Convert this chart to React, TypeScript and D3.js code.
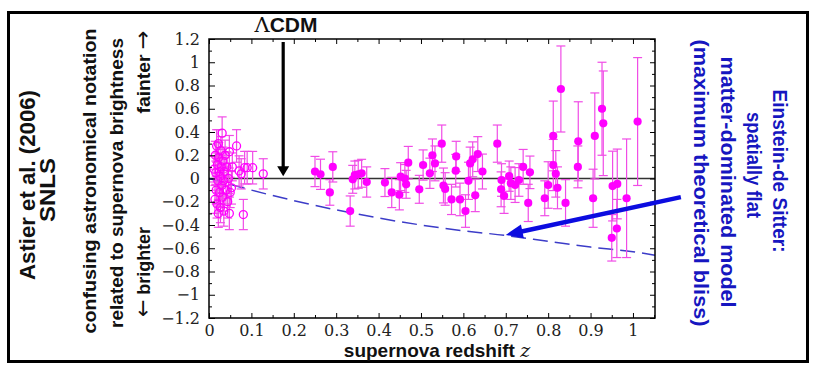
import React, { useRef, useEffect } from "react";
import * as d3 from "d3";

// nearby supernovae (open circles)
const nearZ = [0.012, 0.014, 0.015, 0.016, 0.017, 0.018, 0.019, 0.02, 0.021, 0.022, 0.022, 0.023, 0.024, 0.025, 0.026, 0.027, 0.028, 0.029, 0.03, 0.031, 0.032, 0.033, 0.034, 0.035, 0.036, 0.038, 0.04, 0.042, 0.044, 0.046, 0.048, 0.048, 0.05, 0.053, 0.055, 0.065, 0.071, 0.076, 0.081, 0.084, 0.09, 0.103, 0.128];
const nearMag = [0.08, -0.18, 0.2, 0.05, -0.1, 0.28, -0.22, 0.12, -0.02, 0.3, -0.3, 0.18, 0.06, -0.12, 0.02, -0.25, 0.24, 0.1, -0.06, 0.39, -0.16, 0.15, -0.02, -0.28, 0.06, 0.2, -0.1, 0.1, -0.2, 0.0, 0.23, -0.3, -0.12, -0.08, 0.1, 0.28, 0.065, 0.04, -0.31, 0.093, 0.093, 0.093, 0.04];
const nearErr = [0.11, 0.12, 0.12, 0.1, 0.12, 0.14, 0.12, 0.1, 0.1, 0.12, 0.12, 0.13, 0.11, 0.12, 0.1, 0.13, 0.12, 0.1, 0.11, 0.14, 0.12, 0.12, 0.12, 0.13, 0.12, 0.13, 0.12, 0.13, 0.14, 0.13, 0.14, 0.14, 0.13, 0.14, 0.12, 0.14, 0.13, 0.13, 0.13, 0.14, 0.14, 0.14, 0.13];

// SNLS supernovae (filled circles)
const snlsZ = [0.25, 0.263, 0.285, 0.292, 0.333, 0.339, 0.344, 0.352, 0.36, 0.372, 0.415, 0.431, 0.449, 0.452, 0.462, 0.465, 0.47, 0.496, 0.505, 0.521, 0.527, 0.533, 0.549, 0.553, 0.557, 0.572, 0.582, 0.583, 0.592, 0.605, 0.612, 0.616, 0.622, 0.628, 0.634, 0.645, 0.68, 0.689, 0.69, 0.696, 0.708, 0.712, 0.722, 0.731, 0.741, 0.753, 0.757, 0.792, 0.8, 0.812, 0.812, 0.818, 0.822, 0.83, 0.841, 0.87, 0.871, 0.906, 0.91, 0.927, 0.93, 0.95, 0.952, 0.962, 0.963, 0.985, 1.011];
const snlsMag = [0.06, 0.036, -0.12, 0.1, -0.28, -0.007, 0.03, 0.036, 0.045, -0.03, -0.035, -0.12, -0.14, 0.016, 0.0, -0.05, 0.136, -0.093, 0.116, 0.045, 0.2, 0.13, 0.3, -0.06, -0.09, -0.18, 0.067, 0.19, -0.18, -0.28, -0.02, 0.13, 0.165, -0.145, 0.21, 0.06, 0.3, -0.093, -0.013, -0.15, 0.02, -0.04, -0.056, -0.013, 0.1, -0.21, 0.053, -0.17, -0.056, 0.366, 0.116, 0.04, -0.08, 0.77, -0.21, 0.1, 0.32, -0.17, 0.366, 0.6, 0.475, -0.51, -0.065, -0.43, -0.047, -0.17, 0.49];
const snlsErr = [0.13, 0.13, 0.11, 0.13, 0.13, 0.12, 0.12, 0.12, 0.12, 0.13, 0.12, 0.13, 0.13, 0.12, 0.12, 0.12, 0.14, 0.12, 0.13, 0.13, 0.14, 0.15, 0.16, 0.15, 0.14, 0.13, 0.14, 0.13, 0.14, 0.14, 0.16, 0.14, 0.15, 0.14, 0.15, 0.15, 0.16, 0.15, 0.14, 0.15, 0.13, 0.14, 0.15, 0.14, 0.15, 0.16, 0.14, 0.15, 0.2, 0.3, 0.22, 0.2, 0.18, 0.37, 0.2, 0.18, 0.34, 0.25, 0.37, 0.4, 0.45, 0.2, 0.3, 0.25, 0.3, 0.51, 0.55];

// Einstein-de Sitter model relative to LCDM
const edsZ = [0, 0.05, 0.1, 0.2, 0.3, 0.4, 0.5, 0.6, 0.7, 0.8, 0.9, 1.0, 1.052];
const edsMag = [0, -0.05, -0.1, -0.19, -0.27, -0.34, -0.4, -0.45, -0.49, -0.54, -0.59, -0.63, -0.66];

const xTicks = [0, 0.1, 0.2, 0.3, 0.4, 0.5, 0.6, 0.7, 0.8, 0.9, 1];
const xMinor = [0.05, 0.15, 0.25, 0.35, 0.45, 0.55, 0.65, 0.75, 0.85, 0.95, 1.05];
const yTicks = [-1.2, -1, -0.8, -0.6, -0.4, -0.2, 0, 0.2, 0.4, 0.6, 0.8, 1, 1.2];
const yMinor = [-1.1, -0.9, -0.7, -0.5, -0.3, -0.1, 0.1, 0.3, 0.5, 0.7, 0.9, 1.1];

// side labels: [before arrow, text, after arrow]
const leftLines = [
  { pre: "", text: "Astier et al. (2006)", post: "", x: 35, y: 185, size: 22, len: 190 },
  { pre: "", text: "SNLS", post: "", x: 55, y: 190, size: 22, len: 64 },
  { pre: "", text: "confusing astronomical notation", post: "", x: 96, y: 181, size: 19, len: 305 },
  { pre: "", text: "related to supernova brightness", post: "", x: 123, y: 183, size: 19, len: 290 },
  { pre: "\u2190", text: " brighter", post: "", x: 150, y: 272, size: 19, len: 90 },
  { pre: "", text: "fainter ", post: "\u2192", x: 150, y: 72, size: 19, len: 83 },
];
const rightLines = [
  { text: "Einstein-de Sitter:", x: 773, y: 171, size: 20, len: 163 },
  { text: "spatially flat", x: 747, y: 165, size: 20, len: 106 },
  { text: "matter-dominated model", x: 721, y: 182, size: 20, len: 251 },
  { text: "(maximum theoretical bliss)", x: 694, y: 183, size: 20, len: 287 },
];

const W = 817;
const H = 373;
const plot = { left: 209, right: 655, top: 39, bottom: 318 };
const sans = "'Liberation Sans', Arial, sans-serif";
const serif = "'DejaVu Serif', serif";

const App = () => {
  const svgRef = useRef<SVGSVGElement>(null);

  useEffect(() => {
    const svg = d3.select(svgRef.current);
    svg.selectAll("*").remove();

    const x = d3.scaleLinear().domain([0, 1.052]).range([plot.left, plot.right]);
    const y = d3.scaleLinear().domain([-1.2, 1.2]).range([plot.bottom, plot.top]);
    const fmt = d3.format(".1~f");

    // outer frame
    svg
      .append("rect")
      .attr("x", 8.5)
      .attr("y", 12.5)
      .attr("width", 799)
      .attr("height", 349)
      .attr("fill", "white")
      .attr("stroke", "black")
      .attr("stroke-width", 3);

    // LCDM zero line
    svg
      .append("line")
      .attr("x1", x(0))
      .attr("x2", plot.right)
      .attr("y1", y(0))
      .attr("y2", y(0))
      .attr("stroke", "#333")
      .attr("stroke-width", 1.4);

    // EdS dashed curve
    const eds = edsZ.map((z, i) => [z, edsMag[i]] as [number, number]);
    svg
      .append("path")
      .datum(eds)
      .attr("fill", "none")
      .attr("stroke", "#3c3cc8")
      .attr("stroke-width", 1.5)
      .attr("stroke-dasharray", "15,7")
      .attr(
        "d",
        d3
          .line()
          .x((d) => x(d[0]))
          .y((d) => y(d[1]))
          .curve(d3.curveMonotoneX)
      );

    const near = nearZ.map((z, i) => ({ z, m: nearMag[i], e: nearErr[i] }));
    const snls = snlsZ.map((z, i) => ({ z, m: snlsMag[i], e: snlsErr[i] }));
    const barColor = "#f04ce6";
    const cap = 4.5;

    const drawBars = (data, cls) => {
      const g = svg.append("g").attr("class", cls).attr("stroke", barColor).attr("stroke-width", 1.2);
      g.selectAll(".v")
        .data(data)
        .enter()
        .append("line")
        .attr("x1", (d) => x(d.z))
        .attr("x2", (d) => x(d.z))
        .attr("y1", (d) => y(d.m - d.e))
        .attr("y2", (d) => y(d.m + d.e));
      g.selectAll(".top")
        .data(data)
        .enter()
        .append("line")
        .attr("x1", (d) => x(d.z) - cap)
        .attr("x2", (d) => x(d.z) + cap)
        .attr("y1", (d) => y(d.m + d.e))
        .attr("y2", (d) => y(d.m + d.e));
      g.selectAll(".bot")
        .data(data)
        .enter()
        .append("line")
        .attr("x1", (d) => x(d.z) - cap)
        .attr("x2", (d) => x(d.z) + cap)
        .attr("y1", (d) => y(d.m - d.e))
        .attr("y2", (d) => y(d.m - d.e));
    };
    drawBars(near, "near-bars");
    drawBars(snls, "snls-bars");

    svg
      .append("g")
      .selectAll("circle")
      .data(near)
      .enter()
      .append("circle")
      .attr("cx", (d) => x(d.z))
      .attr("cy", (d) => y(d.m))
      .attr("r", 4)
      .attr("fill", "none")
      .attr("stroke", "#ff00ff")
      .attr("stroke-width", 1.3);

    svg
      .append("g")
      .selectAll("circle")
      .data(snls)
      .enter()
      .append("circle")
      .attr("cx", (d) => x(d.z))
      .attr("cy", (d) => y(d.m))
      .attr("r", 4.1)
      .attr("fill", "#ff00ff");

    // plot frame
    svg
      .append("rect")
      .attr("x", plot.left)
      .attr("y", plot.top)
      .attr("width", plot.right - plot.left)
      .attr("height", plot.bottom - plot.top)
      .attr("fill", "none")
      .attr("stroke", "black")
      .attr("stroke-width", 1.5);

    const styleAxis = (g) => {
      g.select(".domain").remove();
      g.selectAll("line").attr("stroke", "black");
      g.attr("font-family", serif).attr("font-size", 16).selectAll("text").attr("fill", "#222");
    };

    // axes, ticks pointing inward
    svg
      .append("g")
      .attr("transform", `translate(0,${plot.bottom})`)
      .call(d3.axisBottom(x).tickValues(xTicks).tickSize(-5).tickPadding(7).tickFormat(fmt))
      .call(styleAxis);
    svg
      .append("g")
      .attr("transform", `translate(0,${plot.bottom})`)
      .call(d3.axisBottom(x).tickValues(xMinor.filter((v) => v < 1.052)).tickSize(-3).tickFormat(() => ""))
      .call(styleAxis);
    svg
      .append("g")
      .attr("transform", `translate(0,${plot.top})`)
      .call(d3.axisTop(x).tickValues(xTicks).tickSize(-5).tickFormat(() => ""))
      .call(styleAxis);
    svg
      .append("g")
      .attr("transform", `translate(0,${plot.top})`)
      .call(d3.axisTop(x).tickValues(xMinor.filter((v) => v < 1.052)).tickSize(-3).tickFormat(() => ""))
      .call(styleAxis);
    svg
      .append("g")
      .attr("transform", `translate(${plot.left},0)`)
      .call(d3.axisLeft(y).tickValues(yTicks).tickSize(-6).tickPadding(9).tickFormat(fmt))
      .call(styleAxis);
    svg
      .append("g")
      .attr("transform", `translate(${plot.left},0)`)
      .call(d3.axisLeft(y).tickValues(yMinor).tickSize(-3).tickFormat(() => ""))
      .call(styleAxis);
    svg
      .append("g")
      .attr("transform", `translate(${plot.right},0)`)
      .call(d3.axisRight(y).tickValues(yTicks).tickSize(-5).tickFormat(() => ""))
      .call(styleAxis);
    svg
      .append("g")
      .attr("transform", `translate(${plot.right},0)`)
      .call(d3.axisRight(y).tickValues(yMinor).tickSize(-3).tickFormat(() => ""))
      .call(styleAxis);

    // x axis title
    const xt = svg
      .append("text")
      .attr("x", 437)
      .attr("y", 357)
      .attr("text-anchor", "middle")
      .attr("font-family", sans)
      .attr("font-weight", "bold")
      .attr("font-size", 19)
      .attr("fill", "#111");
    xt.append("tspan").text("supernova redshift ");
    xt.append("tspan")
      .attr("font-family", serif)
      .attr("font-style", "italic")
      .attr("font-weight", "normal")
      .text("z");

    // LCDM label + arrow
    const lt = svg
      .append("text")
      .attr("x", 286)
      .attr("y", 32)
      .attr("text-anchor", "middle")
      .attr("font-family", sans)
      .attr("font-weight", "bold")
      .attr("font-size", 20)
      .attr("textLength", 63)
      .attr("lengthAdjust", "spacingAndGlyphs")
      .attr("fill", "#111");
    lt.append("tspan").attr("font-family", serif).attr("font-weight", "normal").text("\u039B");
    lt.append("tspan").text("CDM");

    const ax = x(0.175);
    svg
      .append("line")
      .attr("x1", ax)
      .attr("x2", ax)
      .attr("y1", 42)
      .attr("y2", y(0.02) - 8)
      .attr("stroke", "black")
      .attr("stroke-width", 3.2);
    svg
      .append("path")
      .attr("d", `M${ax - 6},${y(0.02) - 10}L${ax + 6},${y(0.02) - 10}L${ax},${y(0.02)}Z`)
      .attr("fill", "black");

    // EdS arrow
    const sx = x(1.113);
    const sy = y(-0.16);
    const tx = x(0.7);
    const ty = y(-0.485);
    const len = Math.hypot(tx - sx, ty - sy);
    const ux = (tx - sx) / len;
    const uy = (ty - sy) / len;
    const hl = 17;
    const hw = 7;
    const bx = tx - ux * hl;
    const by = ty - uy * hl;
    svg
      .append("line")
      .attr("x1", sx)
      .attr("y1", sy)
      .attr("x2", bx + ux * 2)
      .attr("y2", by + uy * 2)
      .attr("stroke", "#0c0ce0")
      .attr("stroke-width", 4.5);
    svg
      .append("path")
      .attr(
        "d",
        `M${tx},${ty}L${bx - uy * hw},${by + ux * hw}L${bx + uy * hw},${by - ux * hw}Z`
      )
      .attr("fill", "#0c0ce0");

    // rotated side labels
    leftLines.forEach((l) => {
      const t = svg
        .append("text")
        .attr("transform", `translate(${l.x},${l.y}) rotate(-90)`)
        .attr("text-anchor", "middle")
        .attr("font-family", sans)
        .attr("font-weight", "bold")
        .attr("font-size", l.size)
        .attr("textLength", l.len)
        .attr("lengthAdjust", "spacingAndGlyphs")
        .attr("fill", "#111");
      if (l.pre) t.append("tspan").attr("font-family", "'DejaVu Sans'").attr("font-weight", "normal").attr("font-size", 22).text(l.pre);
      t.append("tspan").text(l.text);
      if (l.post) t.append("tspan").attr("font-family", "'DejaVu Sans'").attr("font-weight", "normal").attr("font-size", 22).text(l.post);
    });
    rightLines.forEach((l) => {
      svg
        .append("text")
        .attr("transform", `translate(${l.x},${l.y}) rotate(90)`)
        .attr("text-anchor", "middle")
        .attr("font-family", sans)
        .attr("font-weight", "bold")
        .attr("font-size", l.size)
        .attr("textLength", l.len)
        .attr("lengthAdjust", "spacingAndGlyphs")
        .attr("fill", "#1616c0")
        .text(l.text);
    });
  }, []);

  return (
    <svg
      ref={svgRef}
      width={W}
      height={H}
      style={{ position: "absolute", left: 0, top: 0, background: "white" }}
    ></svg>
  );
};

export default App;
